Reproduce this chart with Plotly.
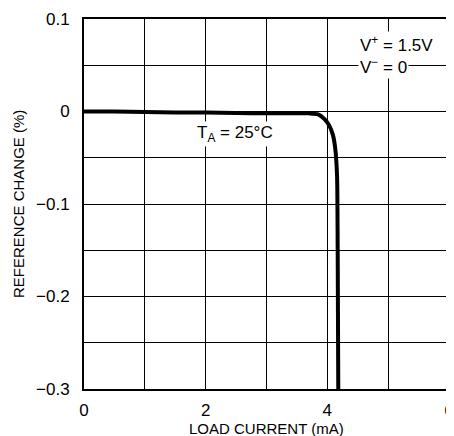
import plotly.graph_objects as go

# Data
load_current = [0, 0.5, 1.0, 1.5, 2.0, 2.5, 3.0, 3.5, 3.7, 3.85, 3.95, 4.03, 4.09, 4.13, 4.16, 4.17, 4.18]
ref_change = [0, 0, -0.0005, -0.001, -0.001, -0.0015, -0.002, -0.002, -0.002, -0.003, -0.008,
              -0.015, -0.025, -0.04, -0.07, -0.15, -0.3]

x_tickvals = [0, 1, 2, 3, 4, 5, 6]
x_ticktext = ["0", "", "2", "", "4", "", "6"]
y_tickvals = [0.1, 0.05, 0, -0.05, -0.1, -0.15, -0.2, -0.25, -0.3]
y_ticktext = ["0.1", "", "0", "", "\u22120.1", "", "\u22120.2", "", "\u22120.3"]

FONT = "Liberation Sans, Arial, sans-serif"

fig = go.Figure()
fig.add_trace(go.Scatter(
    x=load_current, y=ref_change, mode="lines",
    line=dict(color="black", width=4, shape="spline", smoothing=0.6),
    showlegend=False, hoverinfo="skip"))

fig.update_xaxes(range=[0, 6], tickvals=x_tickvals, ticktext=x_ticktext,
                 showgrid=True, gridcolor="black", gridwidth=1,
                 showline=True, linecolor="black", linewidth=2, mirror=True,
                 ticks="", ticklabelstandoff=5, zeroline=False, automargin=False,
                 tickfont=dict(family=FONT, size=17, color="black"))
fig.update_yaxes(range=[-0.3, 0.1], tickvals=y_tickvals, ticktext=y_ticktext,
                 showgrid=True, gridcolor="black", gridwidth=1,
                 showline=True, linecolor="black", linewidth=2, mirror=True,
                 ticks="", ticklabelstandoff=9, zeroline=False, automargin=False,
                 tickfont=dict(family=FONT, size=17, color="black"))

ann_font = dict(family=FONT, size=17, color="black")
fig.add_annotation(x=2.48, y=-0.024, text="T<sub>A</sub> = 25°C", showarrow=False,
                   font=ann_font, bgcolor="white")
fig.add_annotation(x=4.5, y=0.073, text="V<sup>+</sup> = 1.5V", showarrow=False,
                   xanchor="left", font=ann_font, bgcolor="white")
fig.add_annotation(x=4.5, y=0.049, text="V<sup>\u2212</sup> = 0", showarrow=False,
                   xanchor="left", font=ann_font, bgcolor="white")

fig.add_annotation(xref="paper", yref="paper", x=0.5, y=0.0, yshift=-39,
                   text="LOAD CURRENT (mA)", showarrow=False, yanchor="middle",
                   font=dict(family=FONT, size=15, color="black"))
fig.add_annotation(xref="paper", yref="paper", x=0, xshift=-66, y=0.5,
                   text="REFERENCE CHANGE (%)", showarrow=False, textangle=-90,
                   xanchor="center", font=dict(family=FONT, size=15, color="black"))

fig.update_layout(width=454, height=436, margin=dict(l=76, r=13, t=11, b=55),
                  plot_bgcolor="white", paper_bgcolor="white")

fig.write_html("out.html")
